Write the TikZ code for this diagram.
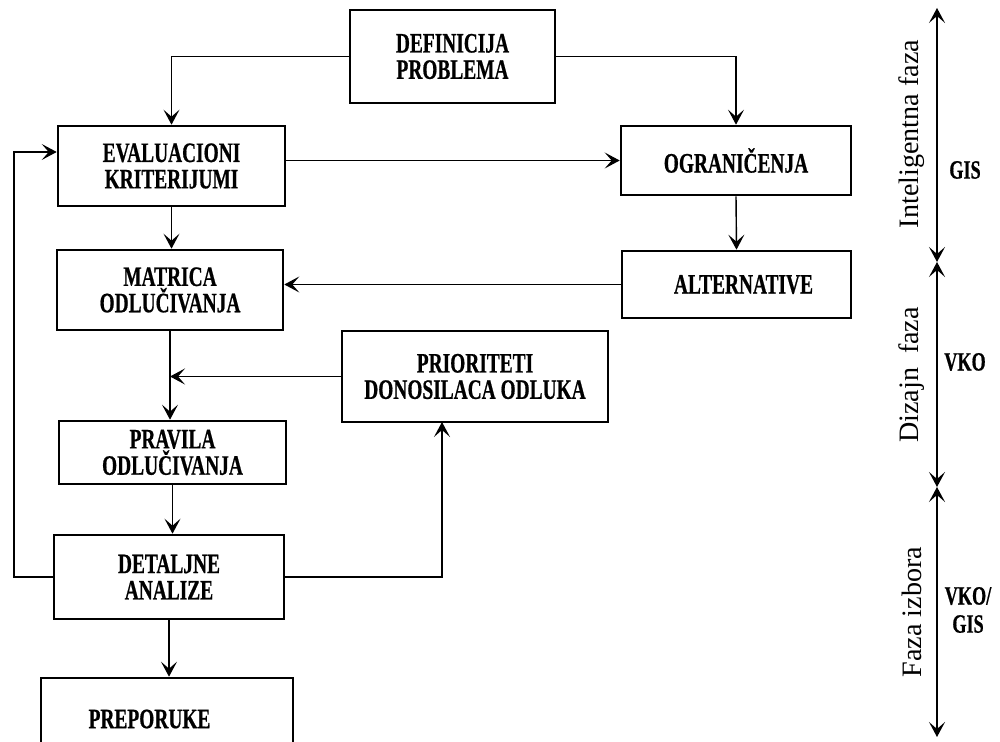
\documentclass[tikz,border=0pt]{standalone}
\usepackage{fontspec}
\setmainfont{Liberation Serif}
\newfontfamily\boxfont{Liberation Serif}[FakeStretch=0.69, BoldFeatures={FakeBold=0.6}]
\usetikzlibrary{arrows.meta}
\tikzset{
    normal/.style={draw, line width=1.5pt},
    b/.style={style=normal, inner sep=1mm, align=center, font=\boxfont\bfseries\fontsize{16pt}{15pt}\selectfont}, % boxes of the chart
    e/.style={draw, line width=0.8pt, ->, >={Stealth[length=3mm, width=3.2mm, inset=1.4mm]}}, % connectors
    ax/.style={draw, line width=0.9pt, <->, >={Stealth[length=3mm, width=3.2mm, inset=1.4mm]}}, % phase axis
    ph/.style={rotate=90, font=\fontsize{16pt}{18pt}\selectfont}, % phase names
    tl/.style={align=center, font=\boxfont\bfseries\fontsize{15pt}{16pt}\selectfont} % tools
}

\begin{document}
\begin{tikzpicture}[x=0.02cm, y=-0.02cm]
        \clip (0,0) rectangle (1000,742);
        \fill[white] (0,0) rectangle (1000,742);

        \node[b, minimum width=41mm, minimum height=18.6mm] (DEF) at (452.5, 56.5)
        {DEFINICIJA\\PROBLEMA};
        \node[b, minimum width=45.4mm, minimum height=16mm] (EK) at (171.5, 166)
        {EVALUACIONI\\KRITERIJUMI};
        \node[b, minimum width=46mm, minimum height=13.8mm] (OGR) at (736, 160.5)
        {OGRANIČENJA};
        \node[b, minimum width=45.8mm, minimum height=13.4mm] (ALT) at (736.5, 284.5)
        {\hspace{2.8mm}ALTERNATIVE};
        \node[b, minimum width=45.2mm, minimum height=16mm] (MO) at (170, 290)
        {MATRICA\\ODLUČIVANJA};
        \node[b, minimum width=53.2mm, minimum height=18.2mm] (PDO) at (475, 376.5)
        {PRIORITETI\\DONOSILACA ODLUKA};
        \node[b, minimum width=45.4mm, minimum height=12.6mm] (PO) at (172.5, 452.5)
        {PRAVILA\\ODLUČIVANJA};
        \node[b, minimum width=46mm, minimum height=16.8mm] (DA) at (169, 577)
        {DETALJNE\\ANALIZE};
        \node[b, minimum width=50.4mm, minimum height=16.4mm] (PR) at (167, 719)
        {PREPORUKE\hspace{7mm}};

        % connectors
        \draw[e] (DEF.west) -| (EK.north);
        \draw[e] (DEF.east) -| (OGR.north);
        \draw[e] (EK.east |- OGR.west) -- (OGR.west);
        \draw[e] (EK.south) -- (EK.south |- MO.north);
        \draw[e] (OGR.south) -- (ALT.north);
        \draw[e] (ALT.west) -- (ALT.west -| MO.east);
        \draw[e] (MO.south) -- (MO.south |- PO.north);
        \draw[e] (PDO.west) -- (PDO.west -| MO.south);
        \draw[e] (PO.south) -- (PO.south |- DA.north);
        \draw[e] (DA.south) -- (DA.south |- PR.north);

        \coordinate (FB) at (14, 152);
        \draw[e] (DA.west) -| (FB) -- (FB -| EK.west);
        \coordinate (DP) at (442, 422);
        \draw[e] (DA.east) -| (DP);

        % phases
        \coordinate (T) at (937, 8);
        \coordinate (J1) at (937, 262);
        \coordinate (J2) at (937, 487);
        \coordinate (B) at (937, 737);
        \draw[ax] (T) -- (J1);
        \draw[ax] (J1) -- (J2);
        \draw[ax] (J2) -- (B);

        \node[ph] (IF) at (912, 134) {Inteligentna faza};
        \node[ph] (DF) at (912, 375) {Dizajn\ \ faza};
        \node[ph] (FI) at (912, 612) {Faza izbora};
        \node[tl] (GIS) at (965, 170) {GIS};
        \node[tl] (VKO) at (965, 362) {VKO};
        \node[tl] (VG) at (968, 610) {VKO/\\GIS};
      \end{tikzpicture}
\end{document}
